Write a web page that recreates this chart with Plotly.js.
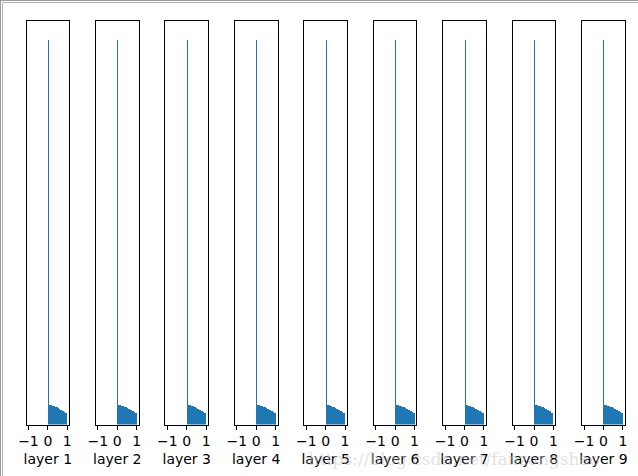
<!DOCTYPE html>
<html>
<head>
<meta charset="utf-8">
<script src="https://cdn.plot.ly/plotly-3.0.1.min.js"></script>
<style>html,body{margin:0;padding:0;background:#fff;}#chart{width:638px;height:476px;}</style>
</head>
<body>
<div id="chart"></div>
<script>
// Histogram bins (left edges), width 0.05, range 0..1
const binLeft = [0.00, 0.05, 0.10, 0.15, 0.20, 0.25, 0.30, 0.35, 0.40, 0.45,
                 0.50, 0.55, 0.60, 0.65, 0.70, 0.75, 0.80, 0.85, 0.90, 0.95];
const binWidth = 0.05;
// counts per bin (relative), spike at 0 then slowly decaying tail
const counts = [1000, 49.6, 49.6, 49.5, 49.3, 48.8, 47.8, 46.5, 45.5, 44.3,
                43.0, 41.5, 40.2, 38.5, 37.0, 35.5, 34.0, 32.5, 31.0, 29.5];
const layerNames = ['layer 1','layer 2','layer 3','layer 4','layer 5','layer 6','layer 7','layer 8','layer 9'];
const tickVals = [-1, 0, 1];
const tickText = ['\u22121', '0', '1'];

const W = 638, H = 476;
const font = 'DejaVu Sans, sans-serif';
const traces = [];
const layout = {
  width: W, height: H,
  margin: {l: 0, r: 0, t: 0, b: 0},
  paper_bgcolor: '#fff', plot_bgcolor: '#fff',
  showlegend: false,
  bargap: 0,
  font: {family: font, size: 14, color: '#000'},
  shapes: [
    {type: 'line', xref: 'paper', yref: 'paper', x0: 0.5/W, x1: 0.5/W, y0: 0, y1: 1, line: {color: '#9a9a9a', width: 1}},
    {type: 'line', xref: 'paper', yref: 'paper', x0: 2.5/W, x1: 2.5/W, y0: 0, y1: 1 - 2.5/H, line: {color: '#b0b0b0', width: 1}},
    {type: 'line', xref: 'paper', yref: 'paper', x0: 0, x1: 1, y0: 1 - 0.5/H, y1: 1 - 0.5/H, line: {color: '#9a9a9a', width: 1}},
    {type: 'line', xref: 'paper', yref: 'paper', x0: 2.5/W, x1: 1, y0: 1 - 2.5/H, y1: 1 - 2.5/H, line: {color: '#b0b0b0', width: 1}}
  ],
  annotations: [
    {text: 'https://blog.csdn.net/fanzongshao', xref: 'paper', yref: 'paper',
     x: 306/W, y: 1 - 459/H, xanchor: 'left', yanchor: 'middle', showarrow: false,
     font: {family: 'DejaVu Serif, serif', size: 17, color: 'rgba(195,195,195,0.5)'}}
  ]
};

const centers = binLeft.map(v => v + binWidth / 2);
const x0 = 26.5, step = 69.45, boxW = 42.7;
const yTop = 21, yBot = 424.5;

layerNames.forEach((name, i) => {
  const n = i + 1;
  const sfx = n === 1 ? '' : String(n);
  traces.push({
    type: 'bar', x: centers, y: counts, width: binWidth,
    marker: {color: '#1f77b4', line: {width: 0}},
    xaxis: 'x' + sfx, yaxis: 'y' + sfx,
    hoverinfo: 'skip'
  });
  const l = x0 + step * i;
  layout['xaxis' + sfx] = {
    domain: [l / W, (l + boxW) / W],
    range: [-1.1, 1.1],
    anchor: 'y' + sfx,
    tickmode: 'array', tickvals: tickVals, ticktext: tickText,
    ticks: 'outside', ticklen: 4, tickwidth: 1, tickcolor: '#000',
    tickfont: {family: font, size: 14, color: '#000'},
    showline: true, mirror: true, linecolor: '#000', linewidth: 1,
    showgrid: false, zeroline: false, fixedrange: true,
    title: {text: name, font: {family: font, size: 14, color: '#000'}, standoff: 5}
  };
  layout['yaxis' + sfx] = {
    domain: [1 - yBot / H, 1 - yTop / H],
    range: [0, 1050],
    anchor: 'x' + sfx,
    showticklabels: false, ticks: '',
    showline: true, mirror: true, linecolor: '#000', linewidth: 1,
    showgrid: false, zeroline: false, fixedrange: true
  };
});

Plotly.newPlot('chart', traces, layout, {displayModeBar: false, staticPlot: true});
</script>
</body>
</html>
